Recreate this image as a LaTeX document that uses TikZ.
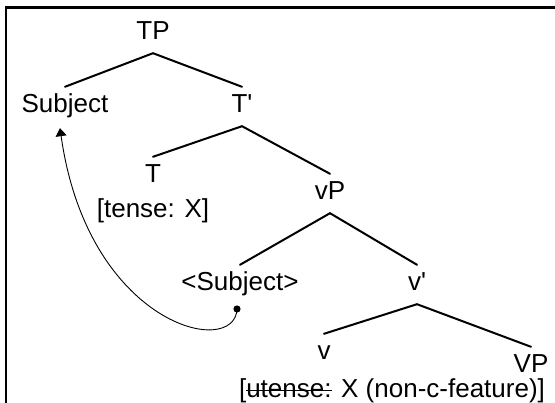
\documentclass[tikz,border=0pt]{standalone}
\usepackage{fontspec}
\setmainfont{Liberation Sans}
\usetikzlibrary{arrows.meta}

% struck-through text
\newlength\strikelen
\newcommand\strikeout[1]{\settowidth{\strikelen}{#1}\rlap{\rule[0.27em]{\strikelen}{1.3pt}}#1}

\tikzset{
  lbl/.style={font=\fontsize{26}{30}\selectfont, anchor=base,
    text height=19pt, text depth=6pt, inner xsep=2pt, inner ysep=7pt},
  feat/.style={font=\fontsize{26}{30}\selectfont, anchor=base, inner sep=0pt},
  branch/.style={line width=2pt, line cap=round},
  movement/.style={line width=0.9pt, -{Triangle[width=11pt,length=8pt]}},
}

\begin{document}
\begin{tikzpicture}[x=1pt, y=-1pt]
  \useasboundingbox (0,0) rectangle (555,403);
  \fill[white] (0,0) rectangle (555,403);
  % frame (top and left edges)
  \draw[line width=2.5pt] (6,403) -- (6,7.5) -- (555,7.5);

  % tree nodes
  \node[lbl] (TP)    at (153,40)  {TP};
  \node[lbl] (Subj)  at (65,113)  {Subject};
  \node[lbl] (Tbar)  at (242,113) {T\textquotesingle};
  \node[lbl] (T)     at (153,183) {T};
  \node[feat] (Tf)   at (153,218) {[tense: X]};
  \node[lbl] (vP)    at (330,200) {vP};
  \node[lbl] (trace) at (240,291) {<Subject>};
  \node[lbl] (vbar)  at (417,291) {v\textquotesingle};
  \node[lbl] (v)     at (324,360) {v};
  \node[lbl, text depth=0pt] (VP) at (531,373) {VP};
  \node[feat] (vf)   at (392,398) {[\strikeout{utense:} X (non-c-feature)]};

  % branches
  \draw[branch] (TP.south) -- (Subj.north);
  \draw[branch] (TP.south) -- (Tbar.north);
  \draw[branch] (Tbar.south) -- (T.north);
  \draw[branch] (Tbar.south) -- (vP.north);
  \draw[branch] (vP.south) -- (trace.north);
  \draw[branch] (vP.south) -- (vbar.north);
  \draw[branch] (vbar.south) -- (v.north);
  \draw[branch] (vbar.south) -- (VP.north);

  % movement of the subject
  \coordinate (src) at (237,309);
  \coordinate (dst) at ([xshift=-5pt,yshift=-2pt]Subj.south);
  \fill (src) circle (3.6pt);
  \draw[movement] (src) .. controls (235,359) and (88,326) .. (dst);
\end{tikzpicture}
\end{document}
